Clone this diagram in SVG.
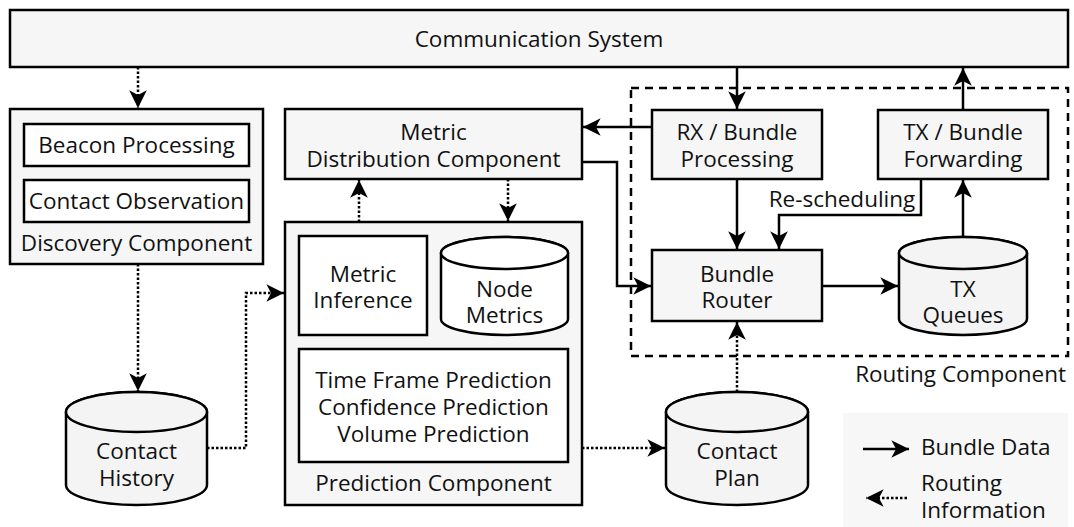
<svg xmlns="http://www.w3.org/2000/svg" width="1074" height="527" viewBox="0 0 1074 527">
  <defs>
    <marker id="arrow" markerUnits="userSpaceOnUse" markerWidth="20" markerHeight="20" viewBox="-16 -8 17 16" refX="0" refY="0" orient="auto">
      <path d="M0,0 L-15,-7.5 L-11,0 L-15,7.5 Z" fill="#000" stroke="none"/>
    </marker>
    <style>
      text { font-family: "Open Sans", "Noto Sans", "DejaVu Sans", sans-serif; font-size: 22.5px; fill: #111; text-anchor: middle; }
      .box { fill: #f6f6f6; stroke: #000; stroke-width: 2.5; }
      .inner { fill: #fff; stroke: #000; stroke-width: 2.5; }
      .cyl { fill: #f4f4f4; stroke: #000; stroke-width: 2.5; }
      .cylw { fill: #fff; stroke: #000; stroke-width: 2.5; }
      .data { fill: none; stroke: #000; stroke-width: 2.5; marker-end: url(#arrow); }
      .info { fill: none; stroke: #000; stroke-width: 2.5; stroke-dasharray: 2.5 2; marker-end: url(#arrow); }
      .group { fill: none; stroke: #000; stroke-width: 2.5; stroke-dasharray: 8 6; }
    </style>
  </defs>

  <rect width="1074" height="527" fill="#fff"/>

  <!-- Communication System -->
  <g id="communication-system">
    <rect class="box" x="10" y="10" width="1058" height="57"/>
    <text x="539" y="47">Communication System</text>
  </g>

  <!-- Discovery Component -->
  <g id="discovery-component">
    <rect class="box" x="10" y="109" width="253" height="155"/>
    <rect class="inner" x="24" y="124" width="225" height="42"/>
    <text x="136.5" y="153">Beacon Processing</text>
    <rect class="inner" x="24" y="180" width="225" height="42"/>
    <text x="136.5" y="209">Contact Observation</text>
    <text x="136.5" y="251">Discovery Component</text>
  </g>

  <!-- Metric Distribution Component -->
  <g id="metric-distribution">
    <rect class="box" x="285" y="109" width="297" height="70"/>
    <text x="433.5" y="140">Metric</text>
    <text x="433.5" y="167">Distribution Component</text>
  </g>

  <!-- Prediction Component -->
  <g id="prediction-component">
    <rect class="box" x="285" y="222" width="297" height="283"/>
    <rect class="inner" x="299" y="236" width="128" height="99"/>
    <text x="363" y="282">Metric</text>
    <text x="363" y="308">Inference</text>
    <rect class="inner" x="299" y="349" width="269" height="113"/>
    <text x="433.5" y="388">Time Frame Prediction</text>
    <text x="433.5" y="415">Confidence Prediction</text>
    <text x="433.5" y="442">Volume Prediction</text>
    <text x="433.5" y="491">Prediction Component</text>
  </g>

  <!-- Node Metrics store -->
  <g id="node-metrics">
    <path class="cylw" d="M441,253 V319 A63.5,16 0 0 0 568,319 V253 A63.5,16 0 0 0 441,253 Z"/>
    <ellipse class="cylw" cx="504.5" cy="253" rx="63.5" ry="16"/>
    <text x="504.5" y="297">Node</text>
    <text x="504.5" y="323">Metrics</text>
  </g>

  <!-- Contact History store -->
  <g id="contact-history">
    <path class="cyl" d="M66,412 V485 A70.5,20 0 0 0 207,485 V412 A70.5,20 0 0 0 66,412 Z"/>
    <ellipse class="cyl" cx="136.5" cy="412" rx="70.5" ry="20"/>
    <text x="136.5" y="459">Contact</text>
    <text x="136.5" y="486">History</text>
  </g>

  <!-- Contact Plan store -->
  <g id="contact-plan">
    <path class="cyl" d="M666,412 V485 A71,20 0 0 0 808,485 V412 A71,20 0 0 0 666,412 Z"/>
    <ellipse class="cyl" cx="737" cy="412" rx="71" ry="20"/>
    <text x="737" y="459">Contact</text>
    <text x="737" y="486">Plan</text>
  </g>

  <!-- Routing Component -->
  <g id="routing-component">
    <rect class="group" x="631" y="88" width="437" height="268"/>
    <text x="1066" y="382" style="text-anchor:end">Routing Component</text>
  </g>

  <g id="rx-processing">
    <rect class="box" x="652" y="110" width="170" height="69"/>
    <text x="737" y="140">RX / Bundle</text>
    <text x="737" y="167">Processing</text>
  </g>

  <g id="tx-forwarding">
    <rect class="box" x="878" y="110" width="170" height="69"/>
    <text x="963" y="140">TX / Bundle</text>
    <text x="963" y="167">Forwarding</text>
  </g>

  <g id="bundle-router">
    <rect class="box" x="652" y="250" width="170" height="71"/>
    <text x="737" y="282">Bundle</text>
    <text x="737" y="308">Router</text>
  </g>

  <g id="tx-queues">
    <path class="cyl" d="M899,253 V319 A64,16 0 0 0 1027,319 V253 A64,16 0 0 0 899,253 Z"/>
    <ellipse class="cyl" cx="963" cy="253" rx="64" ry="16"/>
    <text x="963" y="297">TX</text>
    <text x="963" y="323">Queues</text>
  </g>

  <!-- Connectors -->
  <g id="connectors">
    <!-- routing information (dotted) -->
    <path class="info" d="M138,67 V108"/>
    <path class="info" d="M138,264 V391"/>
    <path class="info" d="M207,448 H246 V293 H284"/>
    <path class="info" d="M359,222 V180"/>
    <path class="info" d="M508,179 V221"/>
    <path class="info" d="M582,448 H665"/>
    <path class="info" d="M737,392 V322"/>
    <!-- bundle data (solid) -->
    <path class="data" d="M737,67 V109"/>
    <path class="data" d="M963,110 V68"/>
    <path class="data" d="M652,127 H583"/>
    <path class="data" d="M582,162 H617 V286 H651"/>
    <path class="data" d="M737,179 V249"/>
    <path class="data" d="M921,179 V215 H779 V249"/>
    <path class="data" d="M822,286 H898"/>
    <path class="data" d="M963,237 V180"/>
    <text x="842" y="207">Re-scheduling</text>
  </g>

  <!-- Legend -->
  <g id="legend">
    <rect x="843" y="413" width="225" height="114" fill="#f7f7f7"/>
    <path class="data" d="M863,449 H909"/>
    <text x="921" y="455" style="text-anchor:start">Bundle Data</text>
    <path class="info" d="M907,498 H866"/>
    <text x="921" y="491" style="text-anchor:start">Routing</text>
    <text x="921" y="518" style="text-anchor:start">Information</text>
  </g>
</svg>
